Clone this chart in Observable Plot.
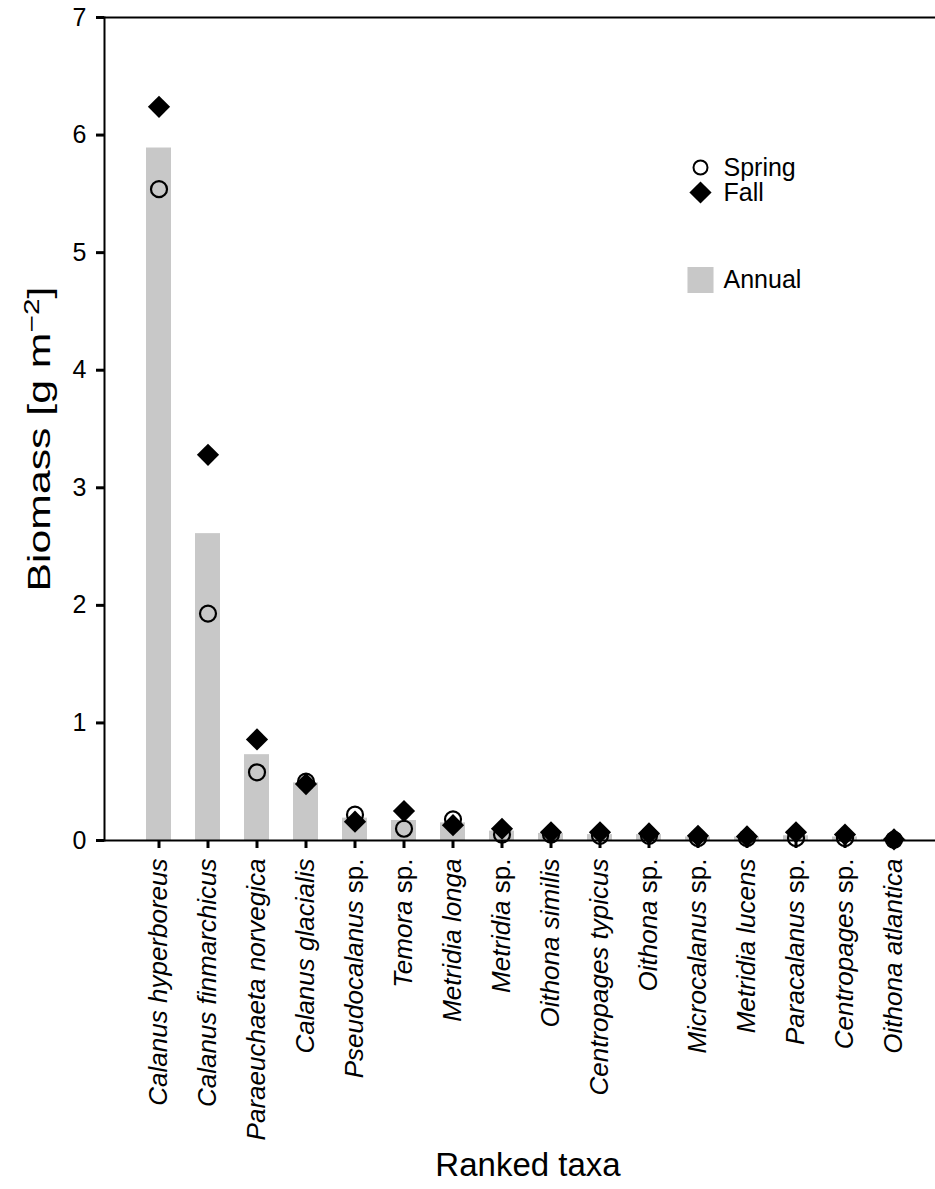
<!DOCTYPE html>
<html>
<head>
<meta charset="utf-8">
<script src="https://cdn.jsdelivr.net/npm/d3@7"></script>
<script src="https://cdn.jsdelivr.net/npm/@observablehq/plot@0.6"></script>
<style>
  html, body { margin: 0; padding: 0; background: white; }
  #chart svg { display: block; }
</style>
</head>
<body>
<div id="chart"></div>
<script>
// ---- data ----
const taxa = [
  "Calanus hyperboreus", "Calanus finmarchicus", "Paraeuchaeta norvegica",
  "Calanus glacialis", "Pseudocalanus sp.", "Temora sp.", "Metridia longa",
  "Metridia sp.", "Oithona similis", "Centropages typicus", "Oithona sp.",
  "Microcalanus sp.", "Metridia lucens", "Paracalanus sp.", "Centropages sp.",
  "Oithona atlantica"
];
const annual = [5.89, 2.61, 0.73, 0.49, 0.19, 0.17, 0.15, 0.08, 0.06, 0.05, 0.05, 0.03, 0.03, 0.04, 0.03, 0.01];
const spring = [5.54, 1.93, 0.58, 0.50, 0.22, 0.10, 0.18, 0.05, 0.05, 0.04, 0.04, 0.02, 0.02, 0.02, 0.02, 0.005];
const fall   = [6.24, 3.28, 0.86, 0.48, 0.16, 0.25, 0.13, 0.10, 0.07, 0.07, 0.06, 0.04, 0.035, 0.07, 0.05, 0.01];
const yTicks = [0, 1, 2, 3, 4, 5, 6, 7];
const legendSpring = "Spring";
const legendFall = "Fall";
const legendAnnual = "Annual";
const xTitle = "Ranked taxa";
const yTitle = "Biomass [g m-2]";

const rows = taxa.map((t, i) => ({taxon: t, annual: annual[i], spring: spring[i], fall: fall[i]}));

const FONT = "'Liberation Sans', Arial, Helvetica, sans-serif";
const BAR = "#c8c8c8";

const legendText = (label, dy) => Plot.text([label], {
  frameAnchor: "top-left", dx: 619, dy, textAnchor: "start", lineAnchor: "middle",
  fontSize: 25, fill: "black"
});

const plot = Plot.plot({
  width: 935,
  height: 1189,
  marginTop: 17,
  marginBottom: 349,
  marginLeft: 104,
  marginRight: 0,
  style: {fontFamily: FONT, background: "white", color: "black"},
  x: {type: "band", domain: taxa, range: [128, 924], paddingInner: 0.5, paddingOuter: 0.25},
  y: {domain: [0, 7]},
  marks: [
    Plot.barY(rows, {x: "taxon", y: "annual", fill: BAR}),
    Plot.ruleY([0, 7], {stroke: "black", strokeWidth: 2}),
    Plot.frame({anchor: "left", stroke: "black", strokeWidth: 2}),
    Plot.axisY({ticks: yTicks, tickFormat: "d", tickSize: 8, tickPadding: 10, fontSize: 25, label: null, strokeWidth: 3}),
    Plot.axisX({tickSize: 8, tickPadding: 10, tickRotate: -90, fontSize: 26, fontStyle: "italic", label: null, strokeWidth: 3}),
    Plot.dot(rows, {x: "taxon", y: "spring", r: 8, stroke: "black", strokeWidth: 2.2, fill: "none"}),
    Plot.dot(rows, {x: "taxon", y: "fall", symbol: "diamond2", r: 10, fill: "black", stroke: "none"}),
    // axis titles
    Plot.text([xTitle], {frameAnchor: "bottom", dx: 8, dy: 325, fontSize: 33, textAnchor: "middle", lineAnchor: "middle", fill: "black"}),
    Plot.text([yTitle], {frameAnchor: "left", dx: -64, dy: 10, rotate: -90, fontSize: 31, textAnchor: "middle", lineAnchor: "middle", fill: "black"}),
    // legend
    Plot.dot([legendSpring], {frameAnchor: "top-left", dx: 596, dy: 150, r: 7, stroke: "black", strokeWidth: 2, fill: "none"}),
    Plot.dot([legendFall], {frameAnchor: "top-left", dx: 596, dy: 175, r: 10, symbol: "diamond2", fill: "black", stroke: "none"}),
    Plot.dot([legendAnnual], {frameAnchor: "top-left", dx: 596, dy: 262.5, r: 14.7, symbol: "square", fill: BAR, stroke: "none"}),
    legendText(legendSpring, 150),
    legendText(legendFall, 175),
    legendText(legendAnnual, 262.5)
  ]
});

const svg = d3.select(plot);

// superscript in y title, stretched to the reference length
svg.selectAll("text").each(function() {
  const t = d3.select(this);
  if (t.text() === yTitle) {
    t.text(null);
    t.attr("textLength", 305).attr("lengthAdjust", "spacingAndGlyphs");
    t.append("tspan").text("Biomass [g m");
    t.append("tspan").attr("dy", "-0.55em").attr("font-size", "0.7em").text("\u22122");
    t.append("tspan").attr("dy", "0.385em").text("]");
  }
});

// genus italic, "sp." upright
svg.selectAll("g[aria-label='x-axis tick label'] text").each(function() {
  const t = d3.select(this);
  const s = t.text();
  if (s.endsWith(" sp.")) {
    t.text(null);
    t.append("tspan").attr("font-style", "italic").text(s.slice(0, -4));
    t.append("tspan").attr("font-style", "normal").text(" sp.");
  }
});

document.getElementById("chart").appendChild(plot);
</script>
</body>
</html>
